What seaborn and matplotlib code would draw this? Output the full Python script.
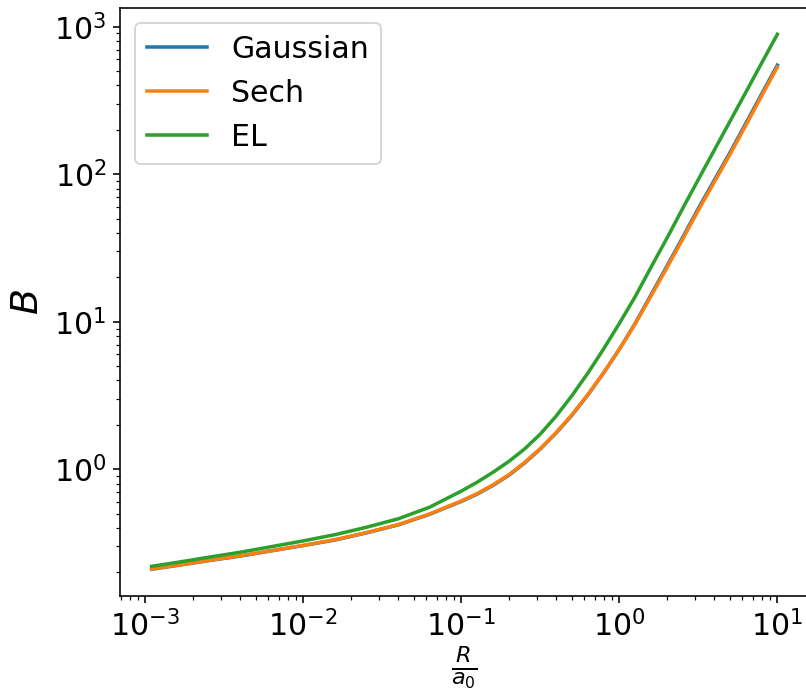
import numpy as np
import pandas as pd
import seaborn as sns
import matplotlib
matplotlib.use("Agg")
import matplotlib.pyplot as plt

# values (log-log plot)
r_over_a0 = [0.0011, 0.0016, 0.0025, 0.004, 0.0063, 0.01, 0.016, 0.025,
             0.04, 0.063, 0.1, 0.126, 0.158, 0.2, 0.251, 0.316,
             0.398, 0.501, 0.631, 0.794, 1.0, 1.26, 1.58, 2.0,
             2.51, 3.16, 3.98, 5.01, 6.31, 7.94, 10.0]

b_gaussian = [0.210, 0.223, 0.240, 0.258, 0.280, 0.304, 0.332, 0.370,
              0.420, 0.495, 0.605, 0.678, 0.775, 0.910, 1.10, 1.37,
              1.76, 2.32, 3.18, 4.48, 6.50, 9.75, 15.1, 23.8,
              37.1, 58.6, 90.8, 140, 221, 349, 549]

b_sech = [0.211, 0.224, 0.241, 0.259, 0.281, 0.305, 0.334, 0.372,
          0.422, 0.498, 0.610, 0.684, 0.782, 0.918, 1.11, 1.38,
          1.77, 2.34, 3.20, 4.50, 6.50, 9.68, 14.8, 23.2,
          36.1, 56.9, 88.1, 136, 214, 339, 533]

b_el = [0.220, 0.234, 0.253, 0.274, 0.299, 0.327, 0.361, 0.404,
        0.462, 0.553, 0.711, 0.817, 0.951, 1.13, 1.37, 1.73,
        2.29, 3.15, 4.47, 6.52, 9.73, 14.8, 23.2, 36.8,
        58.3, 92.0, 145, 228, 359, 565, 889]

labels = ["Gaussian", "Sech", "EL"]

df = pd.concat([
    pd.DataFrame({"R": r_over_a0, "B": b_gaussian, "model": "Gaussian"}),
    pd.DataFrame({"R": r_over_a0, "B": b_sech, "model": "Sech"}),
    pd.DataFrame({"R": r_over_a0, "B": b_el, "model": "EL"}),
])

plt.rcParams["font.size"] = 15
plt.rcParams["font.family"] = ["DejaVu Sans"]

fig = plt.figure(figsize=(806 / 144, 695 / 144), dpi=144)
ax = fig.add_axes([0.1493, 0.1424, 0.854, 0.8468])

sns.lineplot(data=df, x="R", y="B", hue="model", hue_order=labels,
             palette=["tab:blue", "tab:orange", "tab:green"],
             linewidth=1.75, errorbar=None, ax=ax)

ax.set_xscale("log")
ax.set_yscale("log")
ax.set_xlabel(r"$\frac{R}{a_0}$", fontsize=16, labelpad=1)
ax.set_ylabel(r"$B$", fontsize=19)
ax.legend(loc="upper left")

fig.savefig("out.png", dpi=144)
